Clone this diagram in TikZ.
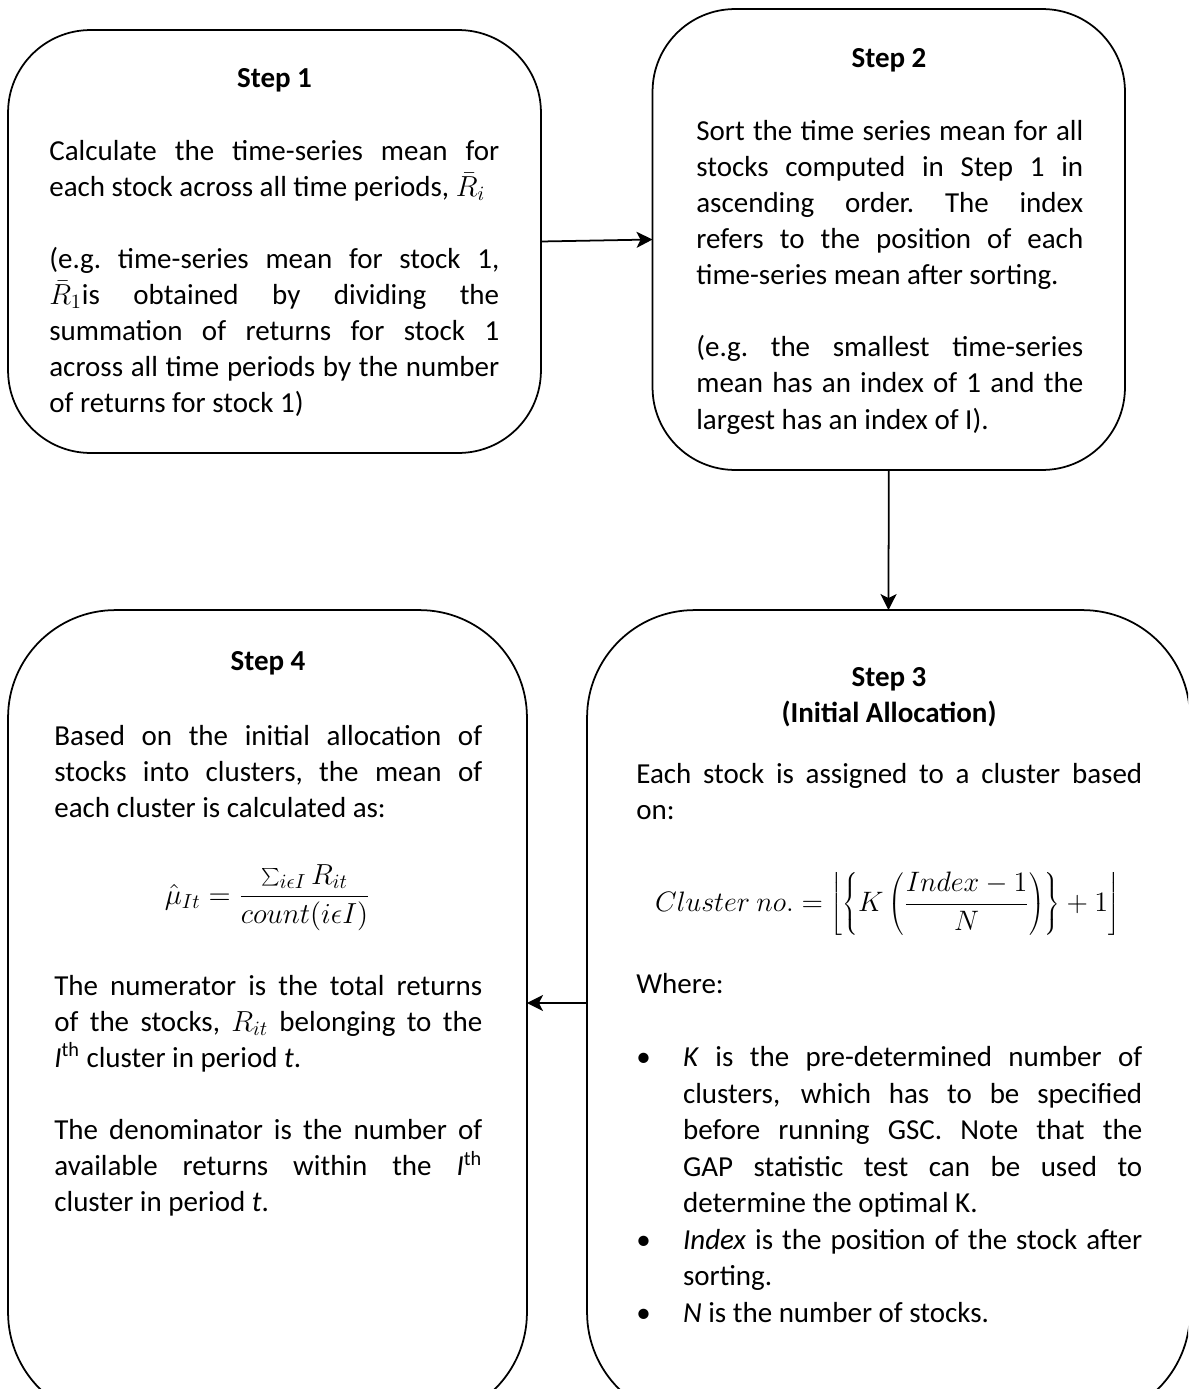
\documentclass[tikz,border=0pt]{standalone}
\usepackage{fix-cm}
\usepackage{fontspec}
\setmainfont{Carlito}
\usetikzlibrary{positioning,arrows.meta}
\tikzset{
  step-box/.style={draw=black,line width=1pt,inner sep=0pt,outer sep=0pt},
  step-box-top/.style={step-box,rounded corners=1.65cm},
  step-box-low/.style={step-box,rounded corners=2.15cm},
  step-title/.style={font=\bodyfont\bfseries,align=center,inner sep=0pt},
  step-text/.style={font=\bodyfont,align=justify,inner sep=0pt,anchor=north west},
  step-math/.style={font=\bodyfont,inner sep=0pt,anchor=base},
  arrow/.style={-{Stealth[length=3.2mm,width=3.2mm,inset=0.8mm]},line width=1pt},
}
\newcommand{\bodyfont}{\fontsize{16.5}{20.55}\selectfont\frenchspacing}
\newcommand{\gap}{\par\vspace{\baselineskip}}
\newcommand{\bulletitem}{\par\hangindent=26.6pt\hangafter=1\noindent\makebox[26.6pt][l]{\textbullet}}

\begin{document}
\begin{tikzpicture}[x=0.02cm,y=-0.02cm]
  \useasboundingbox (0,0) rectangle (1188,1389);
  \clip (0,0) rectangle (1188,1389);

  % boxes
  \node[step-box-top,minimum width=10.66cm,minimum height=8.46cm] (s1) at (274.5,241.5) {};
  \node[step-box-top,minimum width=9.45cm,minimum height=9.22cm] (s2) at (888.75,239.5) {};
  \node[step-box-low,minimum width=12.06cm,minimum height=16.2cm] (s3) at (888.5,1015) {};
  \node[step-box-low,minimum width=10.38cm,minimum height=16.2cm] (s4) at (267.5,1015) {};

  % step 1
  \node[step-title] (t1) at (274.5,80) {Step 1};
  \node[step-text,text width=9cm] (b1) at (49,134.6) {\strut Calculate the time-series mean for\linebreak
    each stock across all time periods, $\bar{R}_i$\gap
    (e.g. time-series mean for stock 1,\linebreak
    $\bar{R}_1$is obtained by dividing the\linebreak
    summation of returns for stock 1\linebreak
    across all time periods by the number\linebreak
    of returns for stock 1)};

  % step 2
  \node[step-title] (t2) at (889,60) {Step 2};
  \node[step-text,text width=7.74cm] (b2) at (696,114.6) {\strut Sort the time series mean for all\linebreak
    stocks computed in Step 1 in\linebreak
    ascending order. The index\linebreak
    refers to the position of each\linebreak
    time-series mean after sorting.\gap
    (e.g. the smallest time-series\linebreak
    mean has an index of 1 and the\linebreak
    largest has an index of I).};

  % step 3
  \node[step-title] (t3) at (889,697) {Step 3\\(Initial Allocation)};
  \node[step-text,text width=10.12cm] (b3a) at (636,757.6) {\strut Each stock is assigned to a cluster based\linebreak
    on:};
  \node[step-math,font=\fontsize{16}{19}\selectfont] (f3) at (887.5,911) {$\displaystyle Cluster\ no. = \left\lfloor\left\{K\left(\frac{Index-1}{N}\right)\right\}+1\right\rfloor$};
  \node[step-text,text width=10.12cm,font=\fontsize{16.5}{20.8}\selectfont] (b3b) at (636,967.6) {\strut Where:\gap
    \bulletitem\textit{K} is the pre-determined number of\linebreak
    clusters, which has to be specified\linebreak
    before running GSC. Note that the\linebreak
    GAP statistic test can be used to\linebreak
    determine the optimal K.
    \bulletitem\textit{Index} is the position of the stock after\linebreak
    sorting.
    \bulletitem\textit{N} is the number of stocks.};

  % step 4
  \node[step-title] (t4) at (268,663) {Step 4};
  \node[step-text,text width=8.56cm] (b4a) at (54,719.6) {\strut Based on the initial allocation of\linebreak
    stocks into clusters, the mean of\linebreak
    each cluster is calculated as:};
  \node[step-math] (f4) at (267.5,904) {$\displaystyle \hat{\mu}_{It} = \frac{\sum_{i\epsilon I} R_{it}}{count(i\epsilon I)}$};
  \node[step-text,text width=8.56cm] (b4b) at (54,969.6) {\strut The numerator is the total returns\linebreak
    of the stocks, $R_{it}$ belonging to the\linebreak
    \textit{I}\textsuperscript{th} cluster in period \textit{t}.\gap
    The denominator is the number of\linebreak
    available returns within the \textit{I}\textsuperscript{th}\linebreak
    cluster in period \textit{t}.};

  % connectors
  \draw[arrow] (s1.east) -- (s2.west);
  \draw[arrow] (s2.south) -- (s3.north);
  \draw[arrow] ([yshift=0.24cm]s3.west) -- ([yshift=0.24cm]s4.east);
\end{tikzpicture}
\end{document}
